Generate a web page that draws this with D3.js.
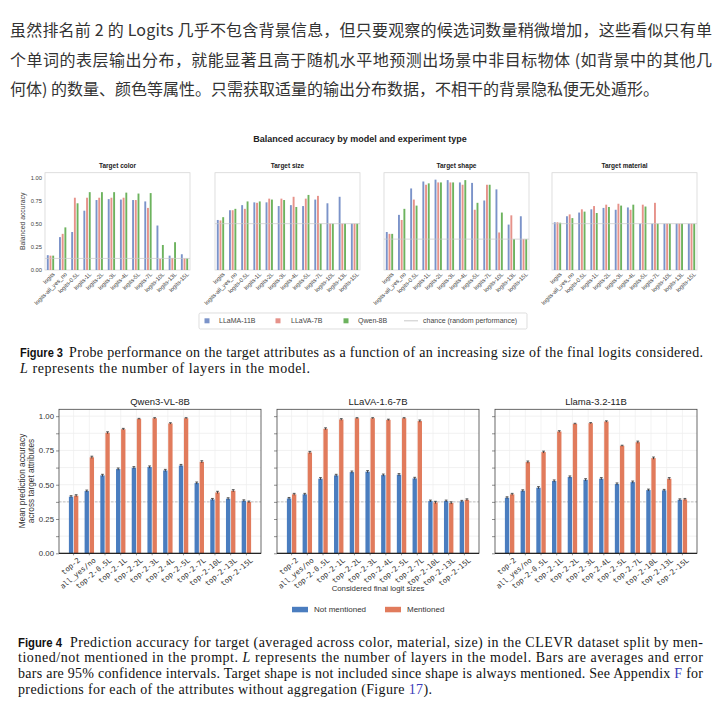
<!DOCTYPE html>
<html><head><meta charset="utf-8">
<script src="https://cdn.jsdelivr.net/npm/d3@7"></script>
<style>body{margin:0;background:#fff} svg{display:block}</style>
</head><body><svg id="c" width="725" height="714"></svg>
<script>
// ---------- text ----------
const introLines = [
  "虽然排名前 2 的 Logits 几乎不包含背景信息，但只要观察的候选词数量稍微增加，这些看似只有单",
  "个单词的表层输出分布，就能显著且高于随机水平地预测出场景中非目标物体 (如背景中的其他几",
  "何体) 的数量、颜色等属性。只需获取适量的输出分布数据，不相干的背景隐私便无处遁形。"
];

// ---------- Figure 3 data ----------
const fig3Title = "Balanced accuracy by model and experiment type";
const fig3Categories = ["logits","logits-all_yes_no","logits-0.5L","logits-1L","logits-2L","logits-3L","logits-4L","logits-5L","logits-7L","logits-10L","logits-13L","logits-15L"];
const fig3Panels = ["Target color","Target size","Target shape","Target material"];
const fig3Models = ["LLaMA-11B","LLaVA-7B","Qwen-8B"];
const fig3Chance = [0.125, 0.5, 1/3, 0.5];
const fig3YTicks = [0, 0.25, 0.5, 0.75, 1.0];

const colorLLaMA = [0.16,0.355,0.41,0.64,0.755,0.765,0.76,0.755,0.74,0.48,0.155,0.17];
const colorLLaVA = [0.155,0.39,0.78,0.78,0.78,0.78,0.78,0.755,0.67,0.12,0.13,0.125];
const colorQwen  = [0.155,0.46,0.72,0.84,0.84,0.84,0.835,0.825,0.83,0.27,0.30,0.125];

const sizeLLaMA = [0.54,0.645,0.70,0.73,0.73,0.69,0.70,0.69,0.76,0.72,0.79,0.5];
const sizeLLaVA = [0.535,0.645,0.66,0.725,0.77,0.77,0.79,0.77,0.80,0.5,0.5,0.5];
const sizeQwen  = [0.57,0.66,0.74,0.74,0.76,0.755,0.68,0.81,0.5,0.5,0.5,0.5];

const shapeLLaMA = [0.41,0.595,0.88,0.955,0.975,0.97,0.945,0.94,0.75,0.87,0.49,0.58];
const shapeLLaVA = [0.39,0.54,0.76,0.92,0.945,0.945,0.92,0.65,0.92,0.405,0.59,0.333];
const shapeQwen  = [0.39,0.66,0.695,0.935,0.945,0.945,0.97,0.725,0.92,0.62,0.333,0.333];

const materialLLaMA = [0.515,0.58,0.62,0.655,0.67,0.65,0.675,0.5,0.5,0.5,0.5,0.5];
const materialLLaVA = [0.515,0.60,0.655,0.69,0.705,0.715,0.65,0.705,0.725,0.5,0.5,0.5];
const materialQwen  = [0.51,0.56,0.63,0.615,0.68,0.695,0.705,0.685,0.5,0.5,0.5,0.5];

// ---------- Figure 4 data ----------
const fig4Categories = ["top-2","all_yes/no","top-2-0.5L","top-2-1L","top-2-2L","top-2-3L","top-2-4L","top-2-5L","top-2-7L","top-2-10L","top-2-13L","top-2-15L"];
const fig4Panels = ["Qwen3-VL-8B","LLaVA-1.6-7B","Llama-3.2-11B"];
const fig4Series = ["Not mentioned","Mentioned"];
const fig4YTicks = [0, 0.25, 0.5, 0.75, 1.0];
const fig4Chance = 0.375;

const qwenNot  = [0.413,0.454,0.568,0.614,0.624,0.629,0.604,0.64,0.512,0.393,0.398,0.383];
const qwenMen  = [0.42,0.70,0.879,0.905,0.98,0.985,0.947,0.985,0.667,0.444,0.456,0.374];
const llavaNot = [0.40,0.43,0.544,0.568,0.592,0.595,0.57,0.573,0.546,0.381,0.381,0.379];
const llavaMen = [0.43,0.735,0.908,0.976,0.985,0.985,0.973,0.985,0.964,0.371,0.367,0.39];
const llamaNot = [0.405,0.456,0.478,0.527,0.556,0.536,0.544,0.505,0.519,0.461,0.459,0.39];
const llamaMen = [0.43,0.665,0.738,0.888,0.944,0.949,0.961,0.784,0.81,0.694,0.544,0.393];
const fig4ErrNot = [0.007,0.007,0.008,0.008,0.008,0.008,0.008,0.008,0.008,0.007,0.007,0.007];
const fig4ErrMen = [0.007,0.008,0.007,0.006,0.004,0.004,0.005,0.004,0.008,0.008,0.008,0.007];

// ---------- drawing ----------
const svg = d3.select("#c");
svg.append("rect").attr("width",725).attr("height",714).attr("fill","#fff");
const SANS = "'Liberation Sans', Arial, sans-serif";
const SERIF = "'Liberation Serif', 'Times New Roman', serif";
const MONO = "'DejaVu Sans Mono', monospace";
const CAP_FS = 14;

// Intro paragraph
const introY = [36, 66, 95];
introLines.forEach((t,i)=>{
  const tx = svg.append("text").attr("x",10).attr("y",introY[i])
    .attr("font-family","'Noto Sans CJK SC', sans-serif").attr("font-size",16)
    .attr("fill","#333").text(t);
  if (i < 2) tx.attr("textLength",702).attr("lengthAdjust","spacing");
});

// ---- Figure 3 ----
const f3Colors = ["#7b93c9","#e6928a","#6db35e"];
const f3Data = [
  [colorLLaMA, colorLLaVA, colorQwen],
  [sizeLLaMA, sizeLLaVA, sizeQwen],
  [shapeLLaMA, shapeLLaVA, shapeQwen],
  [materialLLaMA, materialLLaVA, materialQwen]
];
svg.append("text").attr("x",360).attr("y",142).attr("text-anchor","middle")
  .attr("font-family",SANS).attr("font-weight","bold").attr("font-size",9).attr("fill","#222")
  .text(fig3Title);

const f3Left = [45, 215, 384, 552], f3W = 145, f3Top = 172.7, f3Bot = 270;
const y3 = d3.scaleLinear().domain([0,1.05]).range([f3Bot, f3Top]);
fig3Panels.forEach((name, p)=>{
  const g = svg.append("g");
  const x = d3.scaleBand().domain(fig3Categories).range([f3Left[p], f3Left[p]+f3W]).paddingInner(0.4).paddingOuter(0.15);
  const xs = d3.scaleBand().domain(fig3Models).range([0, x.bandwidth()]).paddingInner(0.3);
  g.append("rect").attr("x",f3Left[p]).attr("y",f3Top).attr("width",f3W).attr("height",f3Bot-f3Top)
    .attr("fill","#fff").attr("stroke","#d6d6d6").attr("stroke-width",0.8);
  g.append("text").attr("x",f3Left[p]+f3W/2).attr("y",f3Top-4.5).attr("text-anchor","middle")
    .attr("font-family",SANS).attr("font-weight","bold").attr("font-size",6.5).attr("fill","#222").text(name);
  fig3Models.forEach((m, k)=>{
    g.selectAll(null).data(f3Data[p][k]).join("rect")
      .attr("x",(d,i)=>x(fig3Categories[i])+xs(m))
      .attr("y",d=>y3(d)).attr("width",xs.bandwidth()).attr("height",d=>f3Bot-y3(d))
      .attr("fill",f3Colors[k]);
  });
  g.append("line").attr("x1",f3Left[p]).attr("x2",f3Left[p]+f3W)
    .attr("y1",y3(fig3Chance[p])).attr("y2",y3(fig3Chance[p]))
    .attr("stroke","#c8c8c8").attr("stroke-width",0.7);
  const xa = g.append("g").attr("transform",`translate(0,${f3Bot})`)
    .call(d3.axisBottom(x).tickSize(0).tickPadding(2));
  xa.select(".domain").remove();
  xa.selectAll("text").attr("font-family",SANS).attr("font-size",5.8).attr("fill","#444")
    .attr("text-anchor","end").attr("dy","0.3em")
    .attr("transform","translate(2,2) rotate(-45)");
  if (p===0) {
    const ya = g.append("g").attr("transform",`translate(${f3Left[0]},0)`)
      .call(d3.axisLeft(y3).tickValues(fig3YTicks).tickFormat(d3.format(".2f")).tickSize(0).tickPadding(3));
    ya.select(".domain").remove();
    ya.selectAll("text").attr("font-family",SANS).attr("font-size",5.8).attr("fill","#444");
    g.append("text").attr("transform",`translate(25,${(f3Top+f3Bot)/2}) rotate(-90)`)
      .attr("text-anchor","middle").attr("font-family",SANS).attr("font-size",6.8).attr("fill","#444")
      .text("Balanced accuracy");
  }
});

// Figure 3 legend
const lg3 = svg.append("g");
lg3.append("rect").attr("x",199).attr("y",313).attr("width",328).attr("height",16)
  .attr("fill","#fff").attr("stroke","#d0d0d0").attr("stroke-width",0.7).attr("rx",1.5);
const lg3SqX = [204.5, 275.5, 343.5], lg3TxX = [219, 291, 358];
fig3Models.forEach((m,k)=>{
  lg3.append("rect").attr("x",lg3SqX[k]).attr("y",318.3).attr("width",5).attr("height",5).attr("fill",f3Colors[k]);
  lg3.append("text").attr("x",lg3TxX[k]).attr("y",323.3).attr("font-family",SANS).attr("font-size",7).attr("fill","#444").text(m);
});
lg3.append("line").attr("x1",404).attr("x2",418).attr("y1",320.8).attr("y2",320.8).attr("stroke","#bbb").attr("stroke-width",0.8);
lg3.append("text").attr("x",423).attr("y",323.3).attr("font-family",SANS).attr("font-size",7).attr("fill","#444").text("chance (random performance)");

// Figure 3 caption
svg.append("text").attr("x",20).attr("y",356.5).attr("font-family",SANS).attr("font-weight","bold").attr("font-size",12.5).attr("fill","#111")
  .attr("textLength",43).attr("lengthAdjust","spacingAndGlyphs").text("Figure 3");
svg.append("text").attr("x",69).attr("y",356.5).attr("font-family",SERIF).attr("font-size",CAP_FS).attr("fill","#111")
  .attr("textLength",634).attr("lengthAdjust","spacing")
  .text("Probe performance on the target attributes as a function of an increasing size of the final logits considered.");
const c3b = svg.append("text").attr("x",20).attr("y",373).attr("font-family",SERIF).attr("font-size",CAP_FS).attr("fill","#111")
  .attr("textLength",290).attr("lengthAdjust","spacing");
c3b.append("tspan").attr("font-style","italic").text("L");
c3b.append("tspan").text(" represents the number of layers in the model.");

// ---- Figure 4 ----
const f4Colors = ["#4a7dbf","#e17b5c"];
const f4Data = [[qwenNot, qwenMen],[llavaNot, llavaMen],[llamaNot, llamaMen]];
const f4Err = [fig4ErrNot, fig4ErrMen];
const f4Left = [59, 277, 495], f4W = 202, f4Top = 409.3, f4Bot = 553.3;
const y4 = d3.scaleLinear().domain([0,1.05]).range([f4Bot, f4Top]);
const minor = d3.range(0, 1.01, 0.125);
fig4Panels.forEach((name,p)=>{
  const g = svg.append("g");
  const L = f4Left[p], R = L + f4W;
  const x = d3.scaleBand().domain(fig4Categories).range([L, R]).paddingInner(0.4).paddingOuter(0.63);
  const xs = d3.scaleBand().domain(fig4Series).range([0, x.bandwidth()]).paddingInner(0.15);
  // grid
  g.selectAll(null).data(minor.slice(1)).join("line")
    .attr("x1",L).attr("x2",R).attr("y1",d=>y4(d)).attr("y2",d=>y4(d))
    .attr("stroke","#ebebeb").attr("stroke-width",0.7);
  g.selectAll(null).data(fig4Categories).join("line")
    .attr("x1",d=>x(d)+x.bandwidth()/2).attr("x2",d=>x(d)+x.bandwidth()/2)
    .attr("y1",f4Top).attr("y2",f4Bot).attr("stroke","#eeeeee").attr("stroke-width",0.7);
  g.append("line").attr("x1",L).attr("x2",R).attr("y1",y4(fig4Chance)).attr("y2",y4(fig4Chance))
    .attr("stroke","#b5b5b5").attr("stroke-width",0.8).attr("stroke-dasharray","2.5,1.5");
  // bars
  fig4Series.forEach((s,k)=>{
    const vals = f4Data[p][k];
    g.selectAll(null).data(vals).join("rect")
      .attr("x",(d,i)=>x(fig4Categories[i])+xs(s)).attr("y",d=>y4(d))
      .attr("width",xs.bandwidth()).attr("height",d=>f4Bot-y4(d)).attr("fill",f4Colors[k]);
    const eg = g.selectAll(null).data(vals).join("g");
    eg.append("line")
      .attr("x1",(d,i)=>x(fig4Categories[i])+xs(s)+xs.bandwidth()/2)
      .attr("x2",(d,i)=>x(fig4Categories[i])+xs(s)+xs.bandwidth()/2)
      .attr("y1",(d,i)=>y4(d+f4Err[k][i])).attr("y2",(d,i)=>y4(d-f4Err[k][i]))
      .attr("stroke","#333").attr("stroke-width",0.9);
    eg.append("line")
      .attr("x1",(d,i)=>x(fig4Categories[i])+xs(s)+xs.bandwidth()/2-1.4)
      .attr("x2",(d,i)=>x(fig4Categories[i])+xs(s)+xs.bandwidth()/2+1.4)
      .attr("y1",(d,i)=>y4(d+f4Err[k][i])).attr("y2",(d,i)=>y4(d+f4Err[k][i]))
      .attr("stroke","#333").attr("stroke-width",0.8);
  });
  // frame
  g.append("rect").attr("x",L).attr("y",f4Top).attr("width",f4W).attr("height",f4Bot-f4Top)
    .attr("fill","none").attr("stroke","#444").attr("stroke-width",0.8);
  g.append("line").attr("x1",L).attr("x2",R).attr("y1",f4Bot).attr("y2",f4Bot).attr("stroke","#111").attr("stroke-width",1);
  // y axis ticks
  const ya = g.append("g").attr("transform",`translate(${L},0)`)
    .call(d3.axisLeft(y4).tickValues(minor).tickSize(3).tickPadding(2)
      .tickFormat(d => (p===0 && fig4YTicks.some(t=>Math.abs(t-d)<1e-9)) ? d3.format(".2f")(d) : ""));
  ya.select(".domain").remove();
  ya.selectAll("line").attr("stroke","#444").attr("stroke-width",0.6);
  ya.selectAll("text").attr("font-family",SANS).attr("font-size",7.8).attr("fill","#333");
  // x axis labels
  const xa = g.append("g").attr("transform",`translate(0,${f4Bot})`)
    .call(d3.axisBottom(x).tickSize(2).tickPadding(2));
  xa.select(".domain").remove();
  xa.selectAll("line").attr("stroke","#444").attr("stroke-width",0.6);
  xa.selectAll("text").attr("font-family",MONO).attr("font-size",7.3).attr("fill","#333")
    .attr("text-anchor","end").attr("dy","0.3em")
    .attr("transform","translate(3,3) rotate(-40)");
  // title
  g.append("text").attr("x",(L+R)/2).attr("y",f4Top-4.5).attr("text-anchor","middle")
    .attr("font-family",SANS).attr("font-size",9.5).attr("fill","#222").text(name);
});
// y label
svg.append("text").attr("transform",`translate(25,481) rotate(-90)`).attr("text-anchor","middle")
  .attr("font-family",SANS).attr("font-size",8.3).attr("fill","#333").text("Mean prediction accuracy");
svg.append("text").attr("transform",`translate(34,481) rotate(-90)`).attr("text-anchor","middle")
  .attr("font-family",SANS).attr("font-size",8.3).attr("fill","#333").text("across target attributes");

// Figure 4 legend
svg.append("text").attr("x",378).attr("y",591).attr("text-anchor","middle")
  .attr("font-family",SANS).attr("font-size",7.8).attr("fill","#333").text("Considered final logit sizes");
const lg4RX = [292, 385], lg4TX = [314, 407];
fig4Series.forEach((s,k)=>{
  svg.append("rect").attr("x",lg4RX[k]).attr("y",606.8).attr("width",16).attr("height",5.5).attr("fill",f4Colors[k]);
  svg.append("text").attr("x",lg4TX[k]).attr("y",612.3).attr("font-family",SANS).attr("font-size",8).attr("fill","#333").text(s);
});

// Figure 4 caption
const capY = [646.5, 662.3, 678, 693.5];
svg.append("text").attr("x",18).attr("y",capY[0]).attr("font-family",SANS).attr("font-weight","bold").attr("font-size",12.5).attr("fill","#111")
  .attr("textLength",44).attr("lengthAdjust","spacingAndGlyphs").text("Figure 4");
svg.append("text").attr("x",70).attr("y",capY[0]).attr("font-family",SERIF).attr("font-size",CAP_FS).attr("fill","#111")
  .attr("textLength",633).attr("lengthAdjust","spacing")
  .text("Prediction accuracy for target (averaged across color, material, size) in the CLEVR dataset split by men-");
const c4b = svg.append("text").attr("x",18).attr("y",capY[1]).attr("font-family",SERIF).attr("font-size",CAP_FS).attr("fill","#111")
  .attr("textLength",685).attr("lengthAdjust","spacing");
c4b.append("tspan").text("tioned/not mentioned in the prompt. ");
c4b.append("tspan").attr("font-style","italic").text("L");
c4b.append("tspan").text(" represents the number of layers in the model. Bars are averages and error");
const c4c = svg.append("text").attr("x",18).attr("y",capY[2]).attr("font-family",SERIF).attr("font-size",CAP_FS).attr("fill","#111")
  .attr("textLength",685).attr("lengthAdjust","spacing");
c4c.append("tspan").text("bars are 95% confidence intervals. Target shape is not included since shape is always mentioned. See Appendix ");
c4c.append("tspan").attr("fill","#3a3ab8").text("F");
c4c.append("tspan").text(" for");
const c4d = svg.append("text").attr("x",18).attr("y",capY[3]).attr("font-family",SERIF).attr("font-size",CAP_FS).attr("fill","#111")
  .attr("textLength",414).attr("lengthAdjust","spacing");
c4d.append("tspan").text("predictions for each of the attributes without aggregation (Figure ");
c4d.append("tspan").attr("fill","#3a3ab8").text("17");
c4d.append("tspan").text(").");
</script></body></html>
